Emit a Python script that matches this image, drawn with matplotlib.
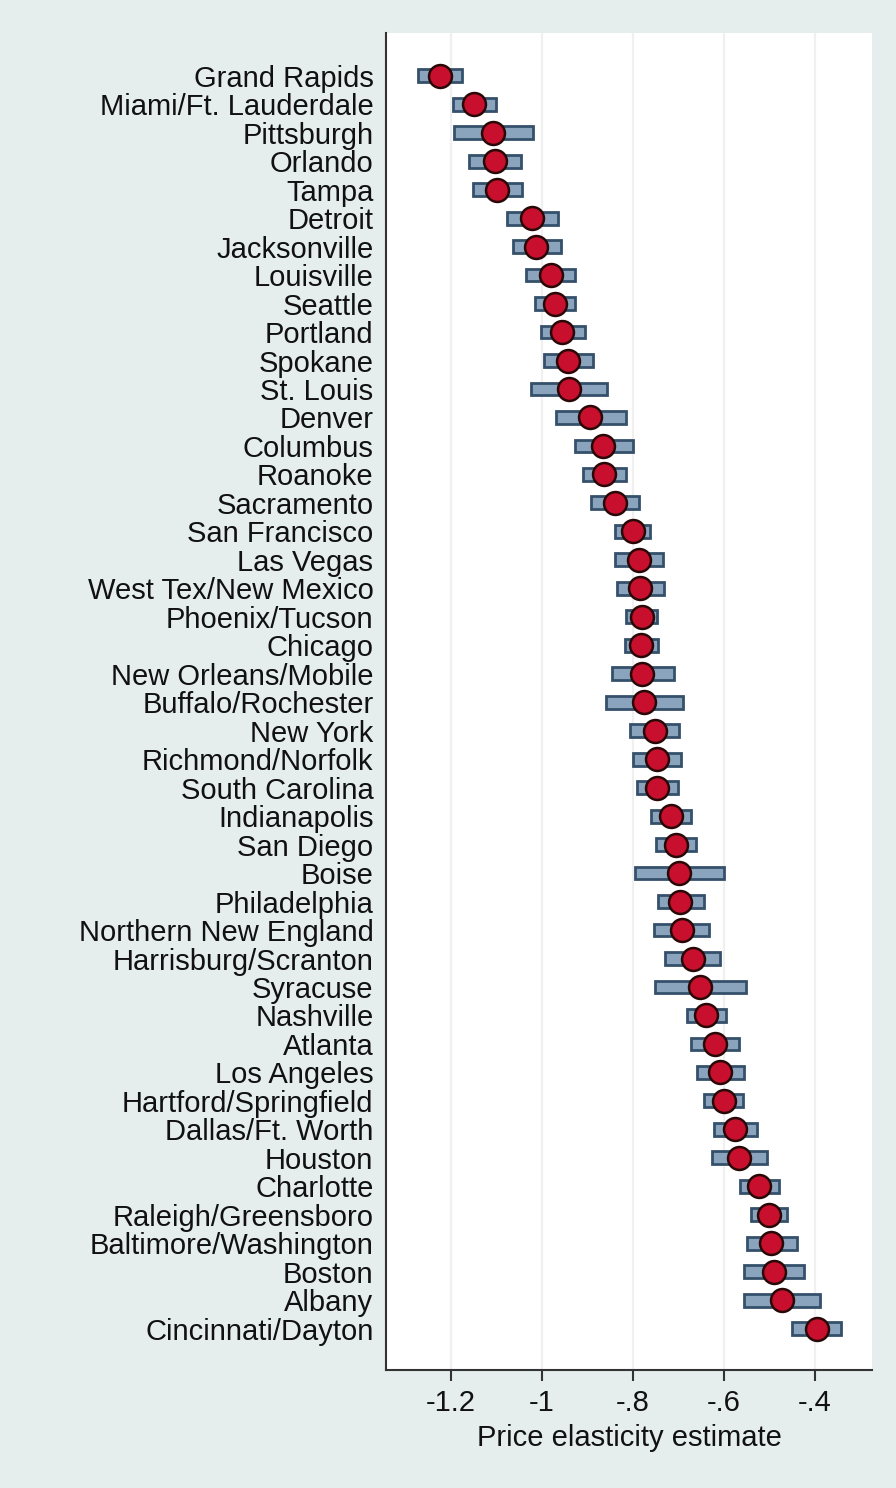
import matplotlib
matplotlib.use("Agg")
import matplotlib.pyplot as plt
import numpy as np

cities = ["Grand Rapids", "Miami/Ft. Lauderdale", "Pittsburgh", "Orlando", "Tampa",
          "Detroit", "Jacksonville", "Louisville", "Seattle", "Portland", "Spokane",
          "St. Louis", "Denver", "Columbus", "Roanoke", "Sacramento", "San Francisco",
          "Las Vegas", "West Tex/New Mexico", "Phoenix/Tucson", "Chicago",
          "New Orleans/Mobile", "Buffalo/Rochester", "New York", "Richmond/Norfolk",
          "South Carolina", "Indianapolis", "San Diego", "Boise", "Philadelphia",
          "Northern New England", "Harrisburg/Scranton", "Syracuse", "Nashville",
          "Atlanta", "Los Angeles", "Hartford/Springfield", "Dallas/Ft. Worth",
          "Houston", "Charlotte", "Raleigh/Greensboro", "Baltimore/Washington",
          "Boston", "Albany", "Cincinnati/Dayton"]

estimate = [-1.224, -1.149, -1.108, -1.104, -1.098, -1.022, -1.013, -0.981, -0.972,
            -0.956, -0.943, -0.941, -0.894, -0.865, -0.864, -0.840, -0.801, -0.786,
            -0.785, -0.781, -0.782, -0.780, -0.776, -0.752, -0.748, -0.747, -0.716,
            -0.706, -0.698, -0.696, -0.693, -0.669, -0.653, -0.640, -0.620, -0.608,
            -0.600, -0.576, -0.567, -0.522, -0.501, -0.496, -0.491, -0.472, -0.396]

ci_low = [-1.272, -1.196, -1.193, -1.160, -1.152, -1.078, -1.063, -1.035, -1.015,
          -1.003, -0.996, -1.024, -0.970, -0.927, -0.911, -0.893, -0.839, -0.839,
          -0.836, -0.815, -0.818, -0.846, -0.860, -0.807, -0.799, -0.792, -0.760,
          -0.749, -0.796, -0.745, -0.754, -0.729, -0.752, -0.682, -0.673, -0.660,
          -0.645, -0.622, -0.626, -0.565, -0.541, -0.549, -0.556, -0.555, -0.451]

ci_high = [-1.177, -1.101, -1.020, -1.047, -1.044, -0.966, -0.959, -0.928, -0.928,
           -0.906, -0.887, -0.858, -0.816, -0.801, -0.815, -0.787, -0.763, -0.733,
           -0.732, -0.747, -0.744, -0.711, -0.690, -0.698, -0.695, -0.702, -0.673,
           -0.662, -0.600, -0.644, -0.633, -0.609, -0.552, -0.596, -0.566, -0.556,
           -0.558, -0.528, -0.506, -0.479, -0.461, -0.440, -0.425, -0.388, -0.343]

xticks = [-1.2, -1.0, -0.8, -0.6, -0.4]
xtick_labels = ["-1.2", "-1", "-.8", "-.6", "-.4"]
xlabel = "Price elasticity estimate"

plt.rcParams['font.family'] = ['Liberation Sans', 'DejaVu Sans']

bg = "#e5eded"
txt = "#111111"
fig = plt.figure(figsize=(8.96, 14.88), dpi=100, facecolor=bg)
ax = fig.add_axes([0.4308, 0.0793, 0.9732 - 0.4308, 0.9778 - 0.0793])
ax.set_facecolor("white")

y = np.arange(1, len(cities) + 1)
low = np.array(ci_low)
high = np.array(ci_high)

ax.barh(y, high - low, left=low, height=0.45, color="#8ba4be",
        edgecolor="#34506b", linewidth=2.0, zorder=2)
ax.plot(estimate, y, linestyle="none", marker="o", markersize=16.5,
        markerfacecolor="#c8102e", markeredgecolor="#2a0808",
        markeredgewidth=1.8, zorder=3)

ax.set_xlim(-1.343, -0.2747)
ax.set_ylim(46.45, -0.5)

ax.set_xticks(xticks)
ax.set_xticklabels(xtick_labels, fontsize=21, color=txt)
ax.set_yticks(y)
ax.set_yticklabels(cities, fontsize=21, color=txt)
ax.set_xlabel(xlabel, fontsize=21, labelpad=5, color=txt)

ax.tick_params(axis="y", length=0, pad=9)
ax.tick_params(axis="x", length=8, width=1.5, color="#333333", pad=6)

ax.grid(axis="x", color="#f0f0f0", linewidth=1.6, zorder=0)
ax.set_axisbelow(True)

for s in ["top", "right"]:
    ax.spines[s].set_visible(False)
for s in ["left", "bottom"]:
    ax.spines[s].set_color("#333333")
    ax.spines[s].set_linewidth(1.5)

fig.savefig("out.png", dpi=100, facecolor=bg)
